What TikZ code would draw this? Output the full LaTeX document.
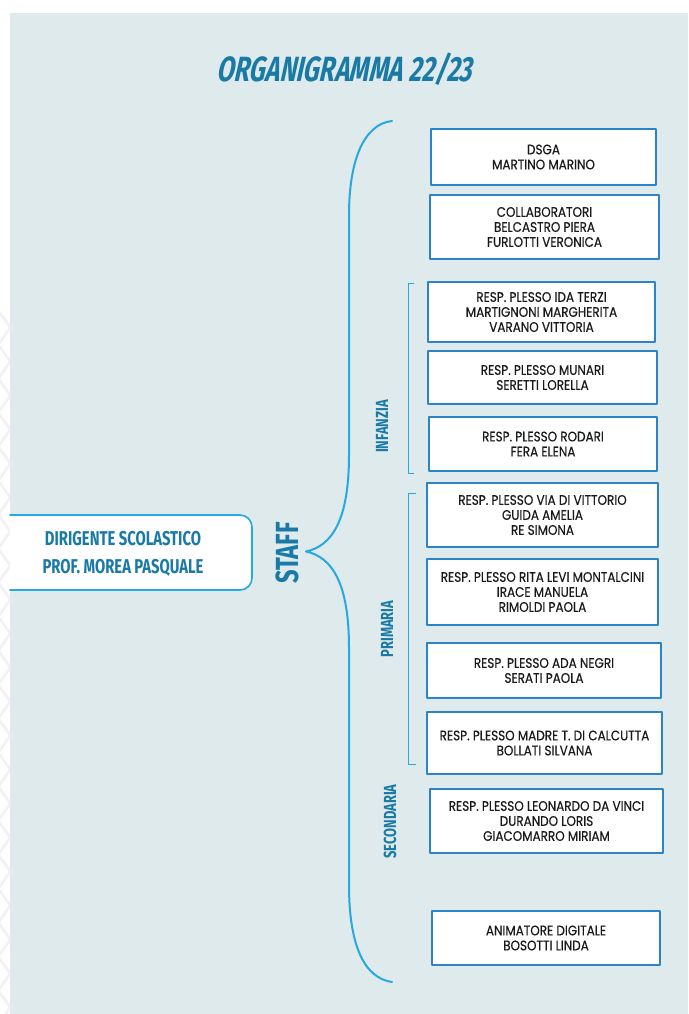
\documentclass[tikz,border=0pt]{standalone}
\usepackage{fontspec}
\newfontfamily\boxfont[FakeStretch=0.87,FakeBold=0.35]{Poppins}
\newfontfamily\condfont[FakeStretch=0.74]{Fira Sans}
\newfontfamily\titlefont[FakeStretch=0.71,FakeSlant=0.22]{Fira Sans}

\definecolor{panelbg}{RGB}{222,234,235}
\definecolor{boxline}{RGB}{44,132,200}
\definecolor{braceline}{RGB}{38,168,224}
\definecolor{headblue}{RGB}{26,122,166}
\definecolor{marginmark}{RGB}{242,239,247}

\begin{document}
\begin{tikzpicture}[x=1pt, y=-1pt, line cap=round, line join=round]

% --- Stijlen ---
\tikzset{
    staffbox/.style={
        draw=boxline,
        line width=2pt,
        fill=white,
        align=center,
        inner sep=0pt,
        text=black!90,
        font=\boxfont\fontsize{13.8}{15}\selectfont
    },
    dirbox/.style={
        draw=braceline,
        line width=1.6pt,
        fill=white,
        rounded corners=12pt
    },
    dirtext/.style={
        align=center,
        inner sep=0pt,
        text=headblue,
        font=\condfont\bfseries\fontsize{20}{28}\selectfont
    },
    grouplabel/.style={
        rotate=90,
        inner sep=0pt,
        text=headblue,
        font=\condfont\bfseries\fontsize{17.5}{17.5}\selectfont
    },
    bigbrace/.style={
        draw=braceline,
        line width=2pt
    },
    bracket/.style={
        draw=braceline,
        line width=1pt,
        line cap=butt
    },
    marginpattern/.style={
        draw=marginmark,
        line width=2.5pt
    }
}

\useasboundingbox (0,0) rectangle (688,1014);

% --- Achtergrond ---
\fill[panelbg] (10,13) rectangle (688,1014);

\begin{scope}
    \clip (0,300) rectangle (10,1014);
    \foreach \k in {0,...,20} {
        \draw[marginpattern] (-2,{310+34*\k}) -- (12,{330+34*\k});
        \draw[marginpattern] (-2,{345+34*\k}) -- (12,{325+34*\k});
    }
\end{scope}

% --- Titel ---
\node[inner sep=0pt, anchor=base, text=headblue,
      font=\titlefont\bfseries\fontsize{35}{35}\selectfont]
    (title) at (344,82) {ORGANIGRAMMA 22/23};

% --- Dirigente ---
\draw[dirbox] (10,515) -- (252,515) -- (252,590) -- (10,590);
\node[dirtext] (dirigente) at (123,554)
    {DIRIGENTE SCOLASTICO\\PROF. MOREA PASQUALE};

% --- Staff met grote accolade ---
\node[grouplabel, font=\condfont\bfseries\fontsize{32}{32}\selectfont]
    (staff) at (287,553) {STAFF};

\coordinate (tip) at (306,551.5);
\coordinate (top) at (392,121);
\coordinate (bottom) at (392,982);

\draw[bigbrace] (top)
    .. controls (364,124) and (349,160) .. (349,215)
    -- (349,455)
    .. controls (349,520) and (332,546) .. (tip)
    .. controls (332,557) and (349,583) .. (349,648)
    -- (349,885)
    .. controls (349,945) and (364,978) .. (bottom);

% --- Groepen ---
\draw[bracket] (414,283) -- (408,283) -- (408,473) -- (414,473);
\draw[bracket] (416,493) -- (408,493) -- (408,764) -- (416,764);

\node[grouplabel] (infanzia) at (382,426.5) {INFANZIA};
\node[grouplabel] (primaria) at (387,629) {PRIMARIA};
\node[grouplabel] (secondaria) at (390,821.5) {SECONDARIA};

% --- Staffleden ---
\node[staffbox, minimum width=225, minimum height=56] (dsga) at (543.5,157)
    {DSGA\\MARTINO MARINO};
\node[staffbox, minimum width=229, minimum height=64] (collab) at (544.5,227)
    {COLLABORATORI\\BELCASTRO PIERA\\FURLOTTI VERONICA};

\node[staffbox, minimum width=227, minimum height=60] (terzi) at (541.5,312)
    {RESP. PLESSO IDA TERZI\\MARTIGNONI MARGHERITA\\VARANO VITTORIA};
\node[staffbox, minimum width=229, minimum height=53] (munari) at (542.5,377.5)
    {RESP. PLESSO MUNARI\\SERETTI LORELLA};
\node[staffbox, minimum width=228, minimum height=54] (rodari) at (543,444)
    {RESP. PLESSO RODARI\\FERA ELENA};

\node[staffbox, minimum width=231, minimum height=64] (vittorio) at (542.5,515)
    {RESP. PLESSO VIA DI VITTORIO\\GUIDA AMELIA\\RE SIMONA};
\node[staffbox, minimum width=231, minimum height=66] (levi) at (542.5,592)
    {RESP. PLESSO RITA LEVI MONTALCINI\\IRACE MANUELA\\RIMOLDI PAOLA};
\node[staffbox, minimum width=234, minimum height=55] (negri) at (544,670.5)
    {RESP. PLESSO ADA NEGRI\\SERATI PAOLA};
\node[staffbox, minimum width=235, minimum height=62] (calcutta) at (544.5,743)
    {RESP. PLESSO MADRE T. DI CALCUTTA\\BOLLATI SILVANA};

\node[staffbox, minimum width=233, minimum height=64] (leonardo) at (546.5,821)
    {RESP. PLESSO LEONARDO DA VINCI\\DURANDO LORIS\\GIACOMARRO MIRIAM};

\node[staffbox, minimum width=228, minimum height=54] (animatore) at (546,938)
    {ANIMATORE DIGITALE\\BOSOTTI LINDA};

\end{tikzpicture}
\end{document}
